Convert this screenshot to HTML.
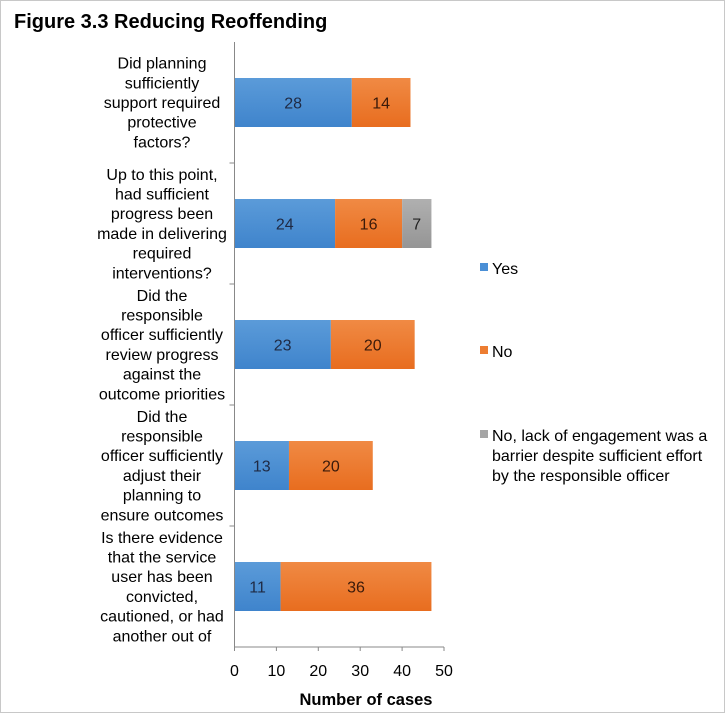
<!DOCTYPE html>
<html><head><meta charset="utf-8"><style>
body{margin:0;background:#fff;}
svg{display:block;font-family:"Liberation Sans",Arial,sans-serif;}
</style></head><body>
<svg id="chart" width="725" height="713" xmlns="http://www.w3.org/2000/svg">
<defs>
<linearGradient id="gb" x1="0" y1="0" x2="0" y2="1"><stop offset="0" stop-color="#5b9bd9"/><stop offset="1" stop-color="#3f84cc"/></linearGradient>
<linearGradient id="go" x1="0" y1="0" x2="0" y2="1"><stop offset="0" stop-color="#f08a44"/><stop offset="1" stop-color="#e86d1f"/></linearGradient>
<linearGradient id="gg" x1="0" y1="0" x2="0" y2="1"><stop offset="0" stop-color="#b0b0b0"/><stop offset="1" stop-color="#959595"/></linearGradient>
</defs>
<rect x="0.5" y="0.5" width="724" height="712" fill="#fff" stroke="#c8c8c8"/>
<text x="14" y="28" font-size="20" font-weight="bold" fill="#000">Figure 3.3 Reducing Reoffending</text>
<g id="plot"></g>
<g>
<rect x="480" y="263" width="8" height="8" fill="#4a8fd6"/>
<text x="492" y="274" font-size="16">Yes</text>
<rect x="480" y="346" width="8" height="8" fill="#ed7d31"/>
<text x="492" y="357" font-size="16">No</text>
<rect x="480" y="430" width="8" height="8" fill="#a5a5a5"/>
<text x="492" y="441" font-size="16"><tspan x="492">No, lack of engagement was a</tspan><tspan x="492" dy="20">barrier despite sufficient effort</tspan><tspan x="492" dy="20">by the responsible officer</tspan></text>
</g>
<text x="366" y="705" font-size="16.5" font-weight="bold" text-anchor="middle">Number of cases</text>
</svg>
<script>
const categories=[
["Did planning","sufficiently","support required","protective","factors?"],
["Up to this point,","had sufficient","progress been","made in delivering","required","interventions?"],
["Did the","responsible","officer sufficiently","review progress","against the","outcome priorities"],
["Did the","responsible","officer sufficiently","adjust their","planning to","ensure outcomes"],
["Is there evidence","that the service","user has been","convicted,","cautioned, or had","another out of"]];
const yesValues=[28,24,23,13,11];
const noValues=[14,16,20,20,36];
const noEngagementValues=[0,7,0,0,0];
const xTicks=[0,10,20,30,40,50];

const NS="http://www.w3.org/2000/svg";
const g=document.getElementById('plot');
const x0=234.5,x1=444,yTop=42,yBot=647;
const xs=v=>x0+(v/50)*(x1-x0);
const band=(yBot-yTop)/categories.length;
function mk(t,a){const e=document.createElementNS(NS,t);for(const k in a)e.setAttribute(k,a[k]);g.appendChild(e);return e;}
const series=[[yesValues,'url(#gb)','yes','#1f2a44'],[noValues,'url(#go)','no','#3a1a0a'],[noEngagementValues,'url(#gg)','no-engagement','#222']];
categories.forEach((lines,i)=>{
  const by=yTop+i*band+36, bh=49, cy=yTop+i*band+band/2;
  let acc=0;
  series.forEach(([arr,fill,nm,tc])=>{
    const v=arr[i]; if(!v) return;
    const r=mk('rect',{x:xs(acc),y:by,width:xs(acc+v)-xs(acc),height:bh,fill:fill});
    
    
    const t=mk('text',{x:(xs(acc)+xs(acc+v))/2,y:by+bh/2+6,'font-size':16,'text-anchor':'middle',fill:tc});
    t.textContent=v;
    
    
    acc+=v;
  });
  const lh=19.7, start=cy-(lines.length-1)*lh/2+5.5;
  const t=mk('text',{'font-size':16,'text-anchor':'middle',fill:'#000'});
  
  
  lines.forEach((l,j)=>{const s=document.createElementNS(NS,'tspan');s.setAttribute('x',162);s.setAttribute('y',start+j*lh);s.textContent=l;t.appendChild(s);});
  if(i>0){const tk=mk('line',{x1:x0-5,x2:x0,y1:yTop+i*band,y2:yTop+i*band,stroke:'#888'});
    
    }
});
const ya=mk('line',{x1:x0,x2:x0,y1:yTop,y2:yBot,stroke:'#888'});


const xa=mk('line',{x1:x0,x2:x1,y1:yBot,y2:yBot,stroke:'#888'});


xTicks.forEach(v=>{
  const l=mk('line',{x1:xs(v),x2:xs(v),y1:yBot,y2:yBot+4,stroke:'#888'});
  
  
  const t=mk('text',{x:xs(v),y:676,'font-size':16,'text-anchor':'middle'});
  t.textContent=v;
  
  
});
</script>
</body></html>
